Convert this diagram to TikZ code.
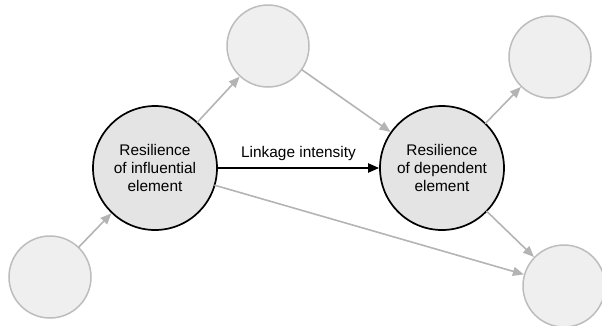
\documentclass[tikz,border=0pt]{standalone}
\usepackage{fontspec}
\setmainfont{Liberation Sans}
\usetikzlibrary{arrows.meta}
\definecolor{gborder}{HTML}{BDBDBD}
\definecolor{gfill}{HTML}{EFEFEF}
\definecolor{mfill}{HTML}{E4E4E4}
\definecolor{garrow}{HTML}{B4B4B4}
\begin{document}
\begin{tikzpicture}[x=1pt,y=-1pt,
  small/.style={circle,draw=gborder,fill=gfill,line width=1.5pt,minimum size=82pt,inner sep=0pt},
  main/.style={circle,draw=black,fill=mfill,line width=1.7pt,minimum size=124pt,inner sep=0pt,align=center,font=\fontsize{15.4}{18.3}\selectfont},
  garr/.style={draw=garrow,line width=1.6pt,-{Triangle[length=11pt,width=9pt]},shorten <=-1pt},
  barr/.style={draw=black,line width=2pt,-{Triangle[length=11pt,width=9pt]}}]
\useasboundingbox (0,0) rectangle (602,325);
\node[small] (tm) at (268,46) {};
\node[small] (tr) at (550,57) {};
\node[small] (bl) at (50,277) {};
\node[small] (br) at (564,286) {};
\node[main] (L) at (155,168) {Resilience\\of influential\\element};
\node[main] (R) at (442,168) {Resilience\\of dependent\\element};
\draw[garr] (bl) -- (L);
\draw[garr] (L) -- (tm);
\draw[garr] (tm) -- (R);
\draw[garr] (R) -- (tr);
\draw[garr] (R) -- (br);
\draw[garr] (L) -- (br);
\draw[barr] (L.east) -- node[above=3pt,font=\fontsize{15.4}{18.3}\selectfont]{Linkage intensity} (R.west);
\end{tikzpicture}
\end{document}
